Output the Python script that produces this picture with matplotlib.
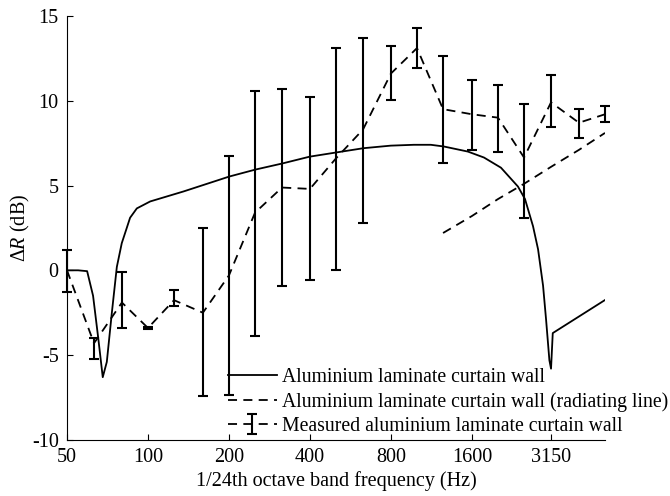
import numpy as np
import matplotlib
matplotlib.use("Agg")
import matplotlib.pyplot as plt

plt.rcParams["font.family"] = ["Liberation Serif", "DejaVu Serif"]
plt.rcParams["mathtext.fontset"] = "custom"
plt.rcParams["mathtext.rm"] = "Liberation Serif"
plt.rcParams["mathtext.it"] = "Liberation Serif:italic"
plt.rcParams["axes.unicode_minus"] = False

# theoretical curve, aluminium laminate curtain wall
theory_freq = [50, 55, 59.4, 62.5, 65.4, 67.9, 70.3, 73.4, 76.6, 79.9, 83.4, 85.8,
               90.9, 101.9, 135.6, 200.7, 251, 316, 399, 502, 633, 799, 973, 1126,
               1258, 1546, 1774, 2052, 2373, 2521, 2700, 2819, 2942, 3019, 3106,
               3150, 3197, 5000]
theory_dR = [0.0, 0.0, -0.05, -1.5, -4.06, -6.3, -5.4, -2.5, 0.2, 1.6, 2.5, 3.1,
             3.65, 4.06, 4.65, 5.53, 5.94, 6.3, 6.7, 6.95, 7.2, 7.35, 7.4, 7.4,
             7.3, 7.0, 6.65, 6.05, 4.94, 4.2, 2.6, 1.24, -0.9, -2.9, -5.3,
             -5.8, -3.7, -1.75]

# radiating-line model (upper bands only)
rad_freq = [1250, 1600, 2000, 2500, 3150, 4000, 5000]
rad_dR = [2.2, 3.2, 4.2, 5.1, 6.1, 7.1, 8.1]

# measured third-octave results with spread
meas_freq = [50, 63, 80, 100, 125, 160, 200, 250, 315, 400, 500, 630, 800,
             1000, 1250, 1600, 2000, 2500, 3150, 4000, 5000]
meas_dR = [0.0, -4.3, -1.9, -3.4, -1.76, -2.5, -0.3, 3.4, 4.88, 4.8, 6.6, 8.3,
           11.6, 13.1, 9.5, 9.2, 9.0, 6.65, 9.9, 8.7, 9.2]
meas_hi = [1.18, -4.0, -0.12, -3.35, -1.18, 2.47, 6.76, 10.6, 10.7, 10.2, 13.1,
           13.7, 13.2, 14.3, 12.65, 11.24, 10.9, 9.8, 11.5, 9.5, 9.7]
meas_lo = [-1.29, -5.24, -3.41, -3.47, -2.1, -7.4, -7.35, -3.9, -0.94, -0.59,
           0.0, 2.8, 10.06, 11.9, 6.35, 7.1, 7.0, 3.06, 8.47, 7.8, 8.75]

xticks = [50, 100, 200, 400, 800, 1600, 3150]
fs = 14.5

fig = plt.figure(figsize=(6.7, 4.96), dpi=100)
ax = fig.add_axes([0.1, 0.113, 0.803, 0.855])

ax.plot(theory_freq, theory_dR, color="black", lw=1.3,
        label="Aluminium laminate curtain wall")
ax.plot(rad_freq, rad_dR, color="black", lw=1.3, ls=(0, (5, 3.5)),
        label="Aluminium laminate curtain wall (radiating line)")

m = np.array(meas_dR)
yerr = [m - np.array(meas_lo), np.array(meas_hi) - m]
eb = ax.errorbar(meas_freq, meas_dR, yerr=yerr, color="black", lw=1.3,
                 ls=(0, (5, 3.5)), elinewidth=1.5, capsize=3.4, capthick=1.5,
                 label="Measured aluminium laminate curtain wall")
for art in eb.lines[1] + eb.lines[2]:
    art.set_clip_on(False)

ax.set_xscale("log")
ax.set_xlim(50, 5000)
ax.set_ylim(-10, 15)
ax.set_xticks(xticks)
ax.set_xticklabels([str(t) for t in xticks])
ax.xaxis.set_minor_locator(matplotlib.ticker.NullLocator())
ax.set_yticks([-10, -5, 0, 5, 10, 15])
ax.tick_params(direction="in", length=4, width=0.8, labelsize=fs, pad=6)
for s in ["top", "right"]:
    ax.spines[s].set_visible(False)

ax.set_xlabel("1/24th octave band frequency (Hz)", fontsize=fs, labelpad=3)
ax.set_ylabel(r"$\Delta R$ (dB)", fontsize=fs, labelpad=0)

ax.legend(loc="lower left", bbox_to_anchor=(0.340, 0.121),
          bbox_transform=fig.transFigure, frameon=False, fontsize=14.2,
          handlelength=2.5, handletextpad=0.25, labelspacing=0.26,
          borderaxespad=0, borderpad=0)

fig.savefig("out.png", dpi=100)
